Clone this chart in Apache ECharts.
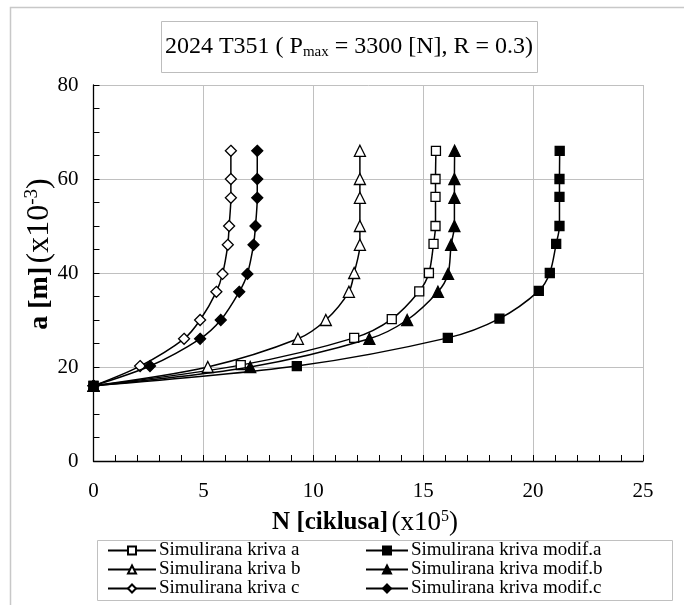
<!DOCTYPE html>
<html>
<head>
<meta charset="utf-8">
<script src="https://cdn.jsdelivr.net/npm/echarts@6/dist/echarts.min.js"></script>
<style>
html, body { margin: 0; padding: 0; background: #fff; }
#chart { width: 684px; height: 605px; }
</style>
</head>
<body>
<div id="chart"></div>
<script>
// N [x10^5 ciklusa] and a [x10^-3 m] for each curve
var nA = [0, 6.7, 11.86, 13.57, 14.82, 15.26, 15.47, 15.56, 15.56, 15.56, 15.58];
var aA = [16, 20.4, 26.2, 30.2, 36.1, 40, 46.2, 50, 56.2, 60, 66];
var nB = [0, 5.2, 9.3, 10.57, 11.62, 11.86, 12.12, 12.12, 12.12, 12.12, 12.12];
var aB = [16, 20, 26, 30, 36, 40, 46, 50, 56, 60, 66];
var nC = [0, 2.12, 4.12, 4.85, 5.59, 5.87, 6.11, 6.17, 6.25, 6.25, 6.25];
var aC = [16, 20.2, 26, 30, 36, 39.8, 46, 50, 56, 60, 66];
var nModA = [0, 9.25, 16.12, 18.47, 20.26, 20.76, 21.05, 21.2, 21.2, 21.2, 21.21];
var aModA = [16, 20.2, 26.2, 30.3, 36.2, 40, 46.2, 50, 56.2, 60, 66];
var nModB = [0, 7.13, 12.55, 14.27, 15.67, 16.13, 16.27, 16.42, 16.42, 16.42, 16.43];
var aModB = [16, 20, 26, 30, 36, 39.8, 46, 50, 56, 60, 66];
var nModC = [0, 2.57, 4.85, 5.79, 6.63, 7.0, 7.28, 7.37, 7.45, 7.45, 7.45];
var aModC = [16, 20.2, 26, 30, 36, 39.8, 46, 50, 56, 60, 66];

var names = ['Simulirana kriva a', 'Simulirana kriva b', 'Simulirana kriva c',
	'Simulirana kriva modif.a', 'Simulirana kriva modif.b', 'Simulirana kriva modif.c'];
var xTicks = [0, 5, 10, 15, 20, 25];
var yTicks = [0, 20, 40, 60, 80];

var FONT = '"Liberation Serif", "Times New Roman", serif';

function pairs(xs, ys) {
	var out = [];
	for (var i = 0; i < xs.length; i++) out.push([xs[i], ys[i]]);
	return out;
}

function makeSeries(name, xs, ys, symbol, filled, size) {
	return {
		name : name,
		type : 'line',
		data : pairs(xs, ys),
		smooth : 0.3,
		symbol : symbol,
		symbolSize : size,
		showAllSymbol : true,
		lineStyle : { color : '#000', width : 1.5 },
		itemStyle : {
			color : filled ? '#000' : '#fff',
			borderColor : '#000',
			borderWidth : 1.3
		},
		emphasis : { disabled : true },
		z : filled ? 3 : 2
	};
}

var option = {
	animation : false,
	backgroundColor : '#fff',
	textStyle : { fontFamily : FONT, color : '#000' },
	grid : { left : 93.5, right : 41, top : 85, bottom : 144 },
	xAxis : {
		type : 'value',
		min : 0,
		max : 25,
		interval : 5,
		axisLine : { lineStyle : { color : '#000', width : 1.3 } },
		axisTick : { inside : true, length : 6, lineStyle : { color : '#000' } },
		minorTick : { show : true, splitNumber : 5, length : 6, lineStyle : { color : '#000' } },
		splitLine : { show : true, lineStyle : { color : '#c0c0c0', width : 1 } },
		axisLabel : {
			margin : 20,
			fontFamily : FONT,
			fontSize : 21,
			color : '#000',
			formatter : function(v) { return xTicks.indexOf(v) >= 0 ? String(v) : ''; }
		}
	},
	yAxis : {
		type : 'value',
		min : 0,
		max : 80,
		interval : 20,
		axisLine : { lineStyle : { color : '#000', width : 1.3 } },
		axisTick : { inside : true, length : 6, lineStyle : { color : '#000' } },
		minorTick : { show : true, splitNumber : 4, length : 6, lineStyle : { color : '#000' } },
		splitLine : { show : true, lineStyle : { color : '#c0c0c0', width : 1 } },
		axisLabel : {
			margin : 15,
			fontFamily : FONT,
			fontSize : 21,
			color : '#000',
			formatter : function(v) { return yTicks.indexOf(v) >= 0 ? String(v) : ''; }
		}
	},
	legend : [{
		left : 107,
		top : 541,
		orient : 'vertical',
		padding : 0,
		itemGap : 0,
		itemWidth : 48,
		itemHeight : 10,
		data : names.slice(0, 3),
		textStyle : { fontFamily : FONT, fontSize : 19, color : '#000', lineHeight : 17, padding : [0, 0, 0, -2] }
	}, {
		left : 365,
		top : 541,
		orient : 'vertical',
		padding : 0,
		itemGap : 0,
		itemWidth : 42,
		itemHeight : 10,
		data : names.slice(3),
		textStyle : { fontFamily : FONT, fontSize : 19, color : '#000', lineHeight : 17, padding : [0, 0, 0, -2] }
	}],
	graphic : [{
		// chart area frame (only left and top edges are visible)
		type : 'rect',
		shape : { x : 10.5, y : 7.5, width : 760, height : 700 },
		style : { fill : 'none', stroke : '#c8c8c8', lineWidth : 1.5 },
		silent : true,
		z : -1
	}, {
		// title box
		type : 'rect',
		shape : { x : 161.5, y : 21.5, width : 376, height : 51 },
		style : { fill : '#fff', stroke : '#bdbdbd', lineWidth : 1 },
		silent : true
	}, {
		type : 'text',
		x : 349,
		y : 47,
		z : 10,
		style : {
			text : '{n|2024 T351 ( P}{s|max}{n| = 3300 [N], R = 0.3)}',
			align : 'center',
			verticalAlign : 'middle',
			rich : {
				n : { fontFamily : FONT, fontSize : 24, fill : '#000', lineHeight : 30 },
				s : { fontFamily : FONT, fontSize : 15, fill : '#000', padding : [10, 0, 0, 0] }
			}
		}
	}, {
		// legend box
		type : 'rect',
		shape : { x : 97.5, y : 540.5, width : 575, height : 60 },
		style : { fill : 'none', stroke : '#c0c0c0', lineWidth : 1 },
		silent : true
	}, {
		type : 'text',
		x : 365,
		y : 523,
		style : {
			text : '{b|N [ciklusa]} {n|(x10}{p|5}{n|)}',
			align : 'center',
			verticalAlign : 'middle',
			rich : {
				b : { fontFamily : FONT, fontSize : 25, fontWeight : 'bold', fill : '#000', lineHeight : 30 },
				n : { fontFamily : FONT, fontSize : 27, fill : '#000' },
				p : { fontFamily : FONT, fontSize : 16, fill : '#000', padding : [0, 0, 13, 0] }
			}
		}
	}, {
		type : 'text',
		x : 40,
		y : 254,
		rotation : Math.PI / 2,
		style : {
			text : '{b|a [m]} {n|(x10}{p|-3}{n|)}',
			align : 'center',
			verticalAlign : 'middle',
			rich : {
				b : { fontFamily : FONT, fontSize : 28, fontWeight : 'bold', fill : '#000', lineHeight : 32 },
				n : { fontFamily : FONT, fontSize : 32, fill : '#000' },
				p : { fontFamily : FONT, fontSize : 19, fill : '#000', padding : [0, 0, 15, 0] }
			}
		}
	}],
	series : [
		makeSeries(names[0], nA, aA, 'rect', false, 9),
		makeSeries(names[1], nB, aB, 'triangle', false, 11),
		makeSeries(names[2], nC, aC, 'diamond', false, 11),
		makeSeries(names[3], nModA, aModA, 'rect', true, 9),
		makeSeries(names[4], nModB, aModB, 'triangle', true, 11),
		makeSeries(names[5], nModC, aModC, 'diamond', true, 11)
	]
};

var chart = echarts.init(document.getElementById('chart'));
chart.setOption(option);
</script>
</body>
</html>
